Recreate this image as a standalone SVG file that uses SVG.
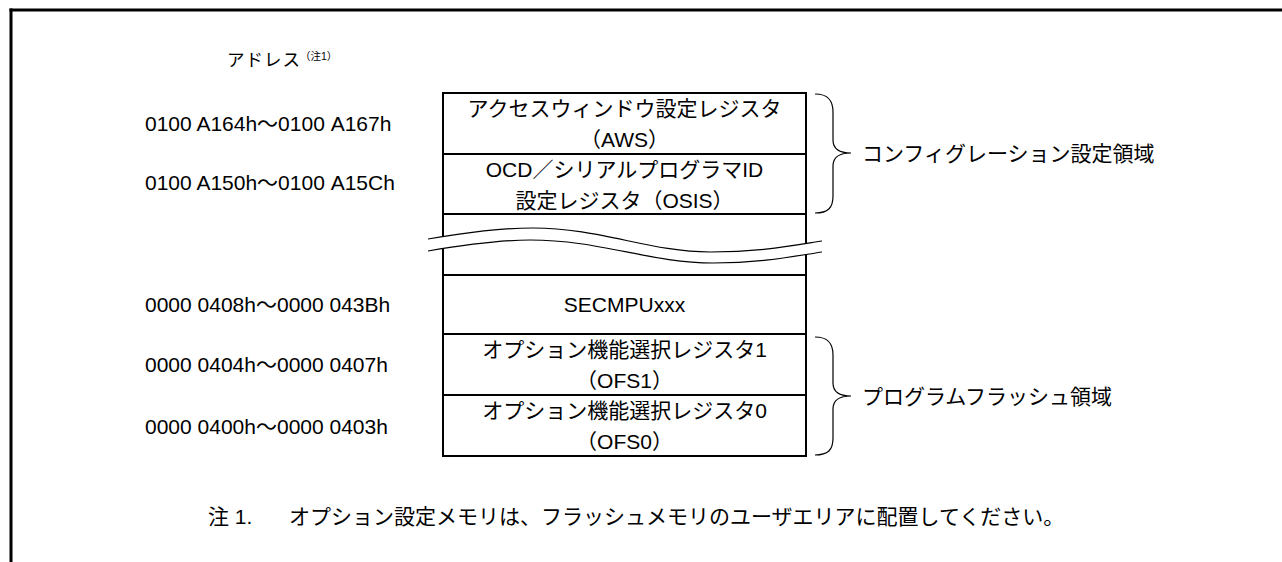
<svg xmlns="http://www.w3.org/2000/svg" width="1282" height="562" viewBox="0 0 1282 562">
<style>
.t{font-family:"Liberation Sans","Noto Sans CJK JP",sans-serif;font-size:21px;fill:#000}
.c{text-anchor:middle}
.cell{fill:#fff;stroke:#000;stroke-width:2}
.br{fill:none;stroke:#000;stroke-width:1.2}
.wave{fill:none;stroke:#000;stroke-width:1.2}
</style>
<rect x="0" y="0" width="1282" height="562" fill="#fff"/>
<g id="frame">
<line x1="11" y1="8.5" x2="11" y2="562" stroke="#000" stroke-width="3"/>
<line x1="9.5" y1="10" x2="1282" y2="10" stroke="#000" stroke-width="3"/>
</g>
<g id="header">
<text class="t" x="227" y="66" style="font-size:17.5px;letter-spacing:1px">アドレス</text>
<text class="t" x="300" y="60" style="font-size:10.5px">（注1）</text>
</g>
<g id="addresses">
<text class="t" x="145" y="131">0100 A164h〜0100 A167h</text>
<text class="t" x="145" y="190">0100 A150h〜0100 A15Ch</text>
<text class="t" x="145" y="312">0000 0408h〜0000 043Bh</text>
<text class="t" x="145" y="372">0000 0404h〜0000 0407h</text>
<text class="t" x="145" y="434">0000 0400h〜0000 0403h</text>
</g>
<g id="node-aws">
<rect class="cell" x="443" y="93" width="363" height="61"/>
<text class="t c" x="624.5" y="116">アクセスウィンドウ設定レジスタ</text>
<text class="t c" x="624.5" y="147">（AWS）</text>
</g>
<g id="node-osis">
<rect class="cell" x="443" y="154" width="363" height="60"/>
<text class="t c" x="624.5" y="176.5">OCD／シリアルプログラマID</text>
<text class="t c" x="624.5" y="207.5">設定レジスタ（OSIS）</text>
</g>
<g id="node-break">
<rect class="cell" x="443" y="214" width="363" height="61"/>
<path d="M428,239 C470,232 500,228 533,228 C600,228 650,252 710,252 C760,252 790,246 822,241 L822,252 C790,257 760,263 713,263 C650,263 600,240 530,240 C500,240 470,244 428,251 Z" fill="#fff" stroke="none"/>
<path class="wave" d="M428,239 C470,232 500,228 533,228 C600,228 650,252 710,252 C760,252 790,246 822,241"/>
<path class="wave" d="M428,251 C470,244 500,240 530,240 C600,240 650,263 713,263 C760,263 790,257 822,252"/>
</g>
<g id="node-secmpu">
<rect class="cell" x="443" y="275" width="363" height="59"/>
<text class="t c" x="624.5" y="312">SECMPUxxx</text>
</g>
<g id="node-ofs1">
<rect class="cell" x="443" y="334" width="363" height="61"/>
<text class="t c" x="624.5" y="357">オプション機能選択レジスタ1</text>
<text class="t c" x="624.5" y="388">（OFS1）</text>
</g>
<g id="node-ofs0">
<rect class="cell" x="443" y="395" width="363" height="61"/>
<text class="t c" x="624.5" y="418">オプション機能選択レジスタ0</text>
<text class="t c" x="624.5" y="449">（OFS0）</text>
</g>
<g id="connectors">
<path class="br" d="M815,94 C828,94 833,100 833,112 L833,140 C833,149 840,153 851,153 C840,153 833,157 833,166 L833,196 C833,208 828,213 815,213"/>
<path class="br" d="M815,337 C828,337 833,343 833,355 L833,383 C833,392 840,396 851,396 C840,396 833,400 833,409 L833,438 C833,450 828,455 815,455"/>
</g>
<g id="labels">
<text class="t" x="862" y="161">コンフィグレーション設定領域</text>
<text class="t" x="862" y="404">プログラムフラッシュ領域</text>
</g>
<g id="note">
<text class="t" x="208" y="524">注 1.</text>
<text class="t" x="289" y="524">オプション設定メモリは、フラッシュメモリのユーザエリアに配置してください。</text>
</g>
</svg>
